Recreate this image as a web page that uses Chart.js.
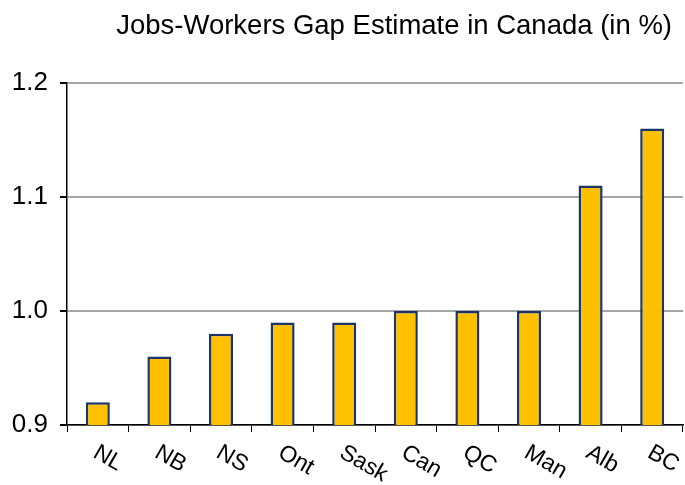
<!DOCTYPE html>
<html>
<head>
<meta charset="utf-8">
<script src="https://cdn.jsdelivr.net/npm/chart.js@4"></script>
<style>
  body { margin: 0; background: #fff; }
  #wrap { width: 685px; height: 485px; }
</style>
</head>
<body>
<div id="wrap"><canvas id="gapChart"></canvas></div>
<script>
// 數據
const provinces = ['NL', 'NB', 'NS', 'Ont', 'Sask', 'Can', 'QC', 'Man', 'Alb', 'BC'];
const gapValues = [0.92, 0.96, 0.98, 0.99, 0.99, 1.00, 1.00, 1.00, 1.11, 1.16];
const yTicks = [0.9, 1.0, 1.1, 1.2];
const chartTitle = 'Jobs-Workers Gap Estimate in Canada (in %)';

const FONT = 'Liberation Sans, Arial, sans-serif';

// 標題與斜體標籤（順時針旋轉）
const slantedLabels = {
    id: 'slantedLabels',
    afterDraw(chart) {
        const ctx = chart.ctx;
        const xs = chart.scales.x;
        ctx.save();
        ctx.fillStyle = '#000';

        // 標題
        ctx.font = '27.5px ' + FONT;
        ctx.textAlign = 'right';
        ctx.textBaseline = 'alphabetic';
        ctx.fillText(chartTitle, 672, 34);

        // x軸標籤
        ctx.font = '23px ' + FONT;
        ctx.textAlign = 'left';
        ctx.textBaseline = 'top';
        provinces.forEach((label, i) => {
            const x = xs.getPixelForTick(i);
            ctx.save();
            ctx.translate(x + 3, xs.top + 16);
            ctx.rotate(Math.PI / 6);
            ctx.fillText(label, 0, 0);
            ctx.restore();
        });
        ctx.restore();
    }
};

new Chart(document.getElementById('gapChart').getContext('2d'), {
    type: 'bar',
    data: {
        labels: provinces,
        datasets: [{
            data: gapValues,
            backgroundColor: '#FFC000',
            borderColor: '#1C3566',
            borderWidth: 2.5,
            borderSkipped: false,
            barPercentage: 0.39,
            categoryPercentage: 1
        }]
    },
    options: {
        responsive: true,
        maintainAspectRatio: false,
        animation: false,
        layout: { padding: { left: 0, right: 2, top: 83, bottom: 0 } },
        plugins: {
            legend: { display: false },
            tooltip: { enabled: false },
            title: { display: false }
        },
        scales: {
            x: {
                grid: {
                    display: true,
                    drawOnChartArea: false,
                    drawTicks: true,
                    tickLength: 7,
                    tickColor: '#000',
                    offset: true
                },
                border: { display: true, color: '#000', width: 1.5 },
                ticks: { display: false },
                afterFit(scale) { scale.height = 60; }
            },
            y: {
                min: 0.9,
                max: 1.2,
                afterBuildTicks(scale) {
                    scale.ticks = yTicks.map(v => ({ value: v }));
                },
                grid: {
                    color: '#A6A6A6',
                    lineWidth: 2,
                    tickColor: '#000',
                    tickLength: 7
                },
                border: { display: true, color: '#000', width: 1.5 },
                ticks: {
                    color: '#000',
                    padding: 12,
                    font: { family: FONT, size: 26 },
                    callback: v => v.toFixed(1)
                },
                afterFit(scale) { scale.width = 67; }
            }
        }
    },
    plugins: [slantedLabels]
});
</script>
</body>
</html>
